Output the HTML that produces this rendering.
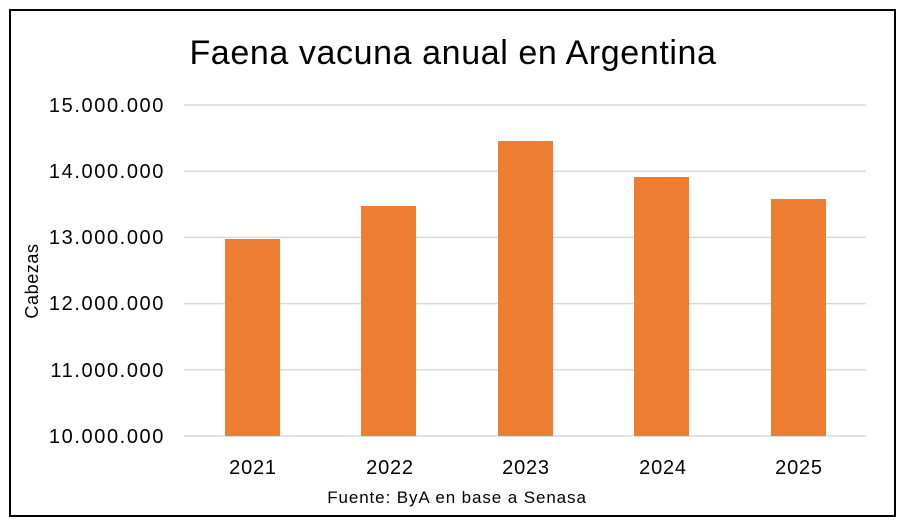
<!DOCTYPE html>
<html><head><meta charset="utf-8"><style>
body{margin:0;background:#fff;}
svg{display:block;font-family:"Liberation Sans",sans-serif;}
</style></head><body>
<svg width="906" height="530" xmlns="http://www.w3.org/2000/svg">
<rect x="0" y="0" width="906" height="530" fill="#fff"/>
<rect x="10" y="10" width="885" height="506" fill="#fff" stroke="#000" stroke-width="2"/>
<text x="453" y="64" font-size="34" letter-spacing="0.6" text-anchor="middle" fill="#000">Faena vacuna anual en Argentina</text>
<g stroke="#d9d9d9" stroke-width="1.5">
<line x1="184" y1="105" x2="866" y2="105"/>
<line x1="184" y1="171.2" x2="866" y2="171.2"/>
<line x1="184" y1="237.4" x2="866" y2="237.4"/>
<line x1="184" y1="303.6" x2="866" y2="303.6"/>
<line x1="184" y1="369.8" x2="866" y2="369.8"/>
<line x1="184" y1="436" x2="866" y2="436"/>
</g>
<g font-size="20" letter-spacing="1.6" text-anchor="end" fill="#000">
<text x="165" y="112">15.000.000</text>
<text x="165" y="178">14.000.000</text>
<text x="165" y="244">13.000.000</text>
<text x="165" y="310">12.000.000</text>
<text x="165" y="377">11.000.000</text>
<text x="165" y="443">10.000.000</text>
</g>
<g fill="#ed7d31">
<rect x="225" y="239" width="55" height="197"/>
<rect x="361" y="206" width="55" height="230"/>
<rect x="498" y="141" width="55" height="295"/>
<rect x="634" y="177" width="55" height="259"/>
<rect x="771" y="199" width="55" height="237"/>
</g>
<g font-size="20" letter-spacing="0.8" text-anchor="middle" fill="#000">
<text x="253" y="474">2021</text>
<text x="390" y="474">2022</text>
<text x="526" y="474">2023</text>
<text x="663" y="474">2024</text>
<text x="799" y="474">2025</text>
</g>
<text transform="translate(38,281) rotate(-90)" font-size="18" letter-spacing="0.6" text-anchor="middle">Cabezas</text>
<text x="457" y="503" font-size="17" letter-spacing="0.9" text-anchor="middle">Fuente: ByA en base a Senasa</text>
</svg>
</body></html>
